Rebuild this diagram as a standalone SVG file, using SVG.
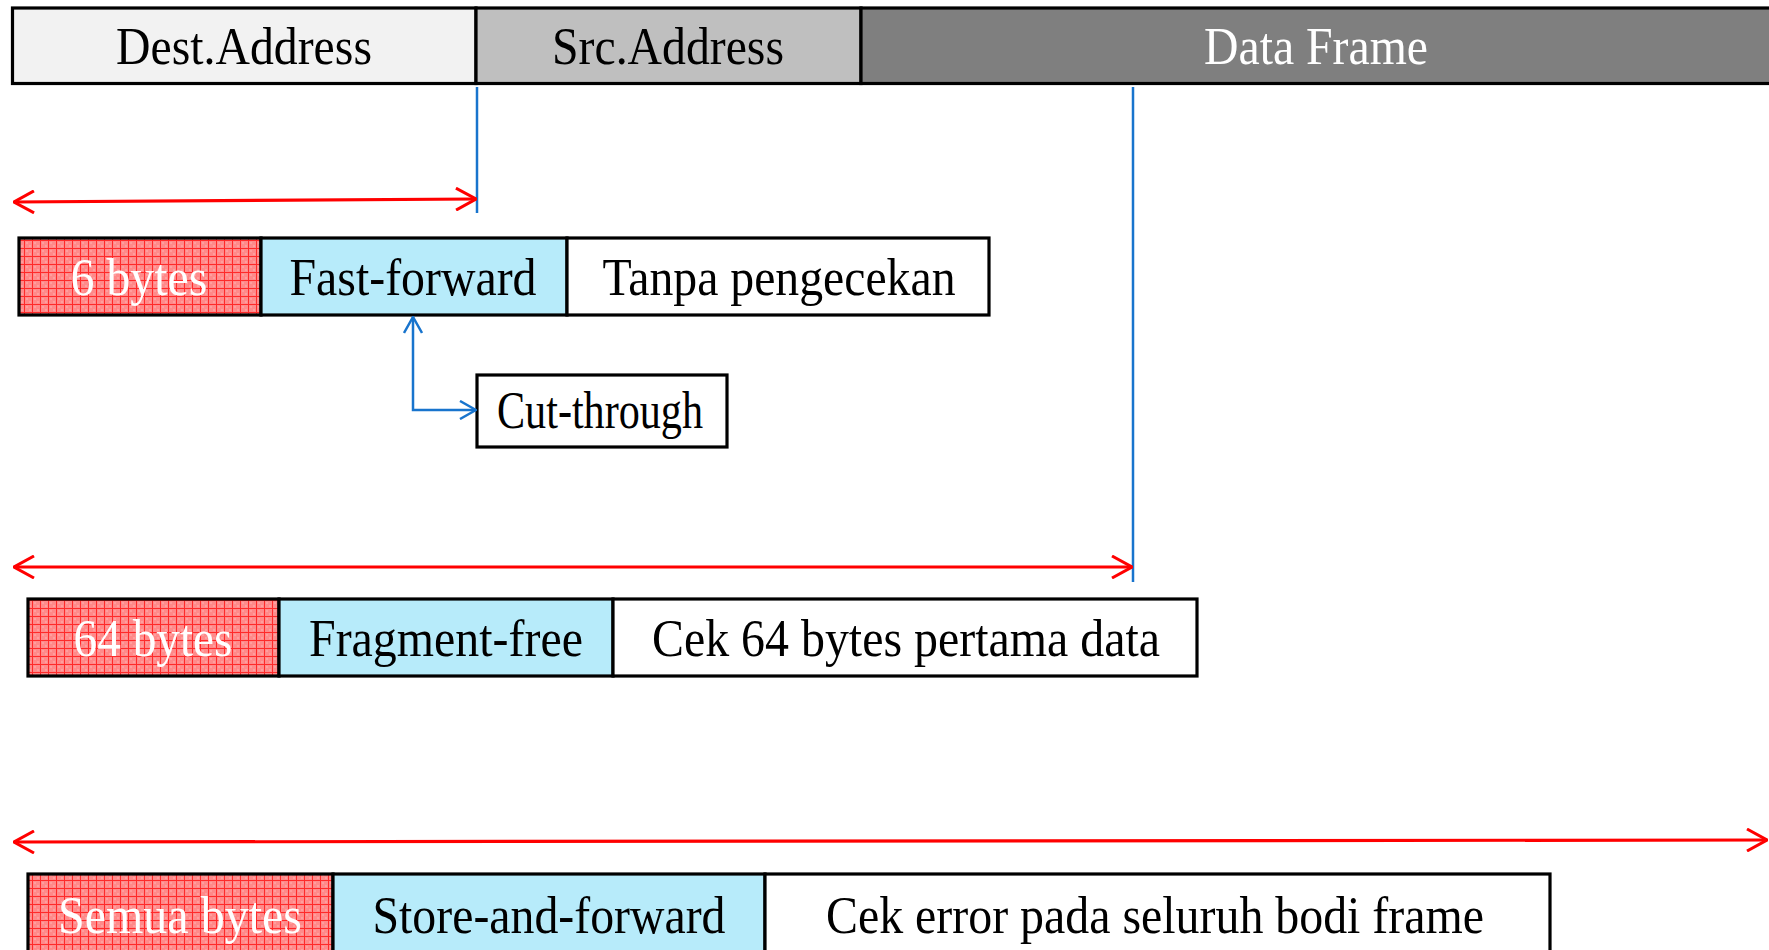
<svg xmlns="http://www.w3.org/2000/svg" width="1769" height="950" viewBox="0 0 1769 950">
  <defs>
    <!-- red hatched grid fill for the byte-count cells -->
    <pattern id="redGrid" width="8" height="8" patternUnits="userSpaceOnUse">
      <rect width="8" height="8" fill="#ff8a8a"/>
      <rect x="2" y="2" width="2" height="2" fill="#ff9e9e"/>
      <rect x="5" y="5" width="2" height="2" fill="#ff9e9e"/>
      <path d="M0 0.5H8M0.5 0V8" stroke="#ff2a2a" stroke-width="1"/>
    </pattern>
    <marker id="redHead" viewBox="0 0 22 24" refX="21" refY="12" markerWidth="22" markerHeight="24" markerUnits="userSpaceOnUse" orient="auto-start-reverse">
      <path d="M1 1L21 12L1 23" fill="none" stroke="#ff0000" stroke-width="3"/>
    </marker>
    <marker id="blueHead" viewBox="0 0 18 20" refX="17" refY="10" markerWidth="18" markerHeight="20" markerUnits="userSpaceOnUse" orient="auto-start-reverse">
      <path d="M1 1L17 10L1 19" fill="none" stroke="#1874cd" stroke-width="2.5"/>
    </marker>
    <style>
      .cell { stroke: #000; stroke-width: 3.2; }
      .lbl { font-family: "Liberation Serif", "Times New Roman", serif; font-size: 52px; text-anchor: middle; fill: #000; }
      .white { fill: #fff; }
      .red { fill: none; stroke: #ff0000; stroke-width: 3.2; }
      .blue { fill: none; stroke: #1874cd; stroke-width: 2.5; }
    </style>
  </defs>

  <rect width="1769" height="950" fill="#fff"/>

  <!-- frame header -->
  <g id="frame">
    <rect class="cell" x="12.5" y="8" width="463.5" height="75.5" fill="#f2f2f2"/>
    <rect class="cell" x="476" y="8" width="385" height="75.5" fill="#bfbfbf"/>
    <rect class="cell" x="861" y="8" width="930" height="75.5" fill="#7f7f7f"/>
    <text class="lbl" x="244" y="64" textLength="256" lengthAdjust="spacingAndGlyphs">Dest.Address</text>
    <text class="lbl" x="668" y="64" textLength="232" lengthAdjust="spacingAndGlyphs">Src.Address</text>
    <text class="lbl white" x="1316" y="64" textLength="224" lengthAdjust="spacingAndGlyphs">Data Frame</text>
  </g>

  <!-- fast-forward row -->
  <g id="row-fast-forward">
    <rect class="cell" x="19" y="238" width="242" height="77" fill="url(#redGrid)"/>
    <rect class="cell" x="261" y="238" width="306" height="77" fill="#b7ebfa"/>
    <rect class="cell" x="567" y="238" width="422" height="77" fill="#fff"/>
    <text class="lbl white" x="139" y="295" textLength="137" lengthAdjust="spacingAndGlyphs">6 bytes</text>
    <text class="lbl" x="413" y="295" textLength="247" lengthAdjust="spacingAndGlyphs">Fast-forward</text>
    <text class="lbl" x="779" y="295" textLength="353" lengthAdjust="spacingAndGlyphs">Tanpa pengecekan</text>
  </g>

  <g id="cut-through">
    <rect class="cell" x="477" y="375" width="250" height="72" fill="#fff"/>
    <text class="lbl" x="600" y="428" textLength="206" lengthAdjust="spacingAndGlyphs">Cut-through</text>
  </g>

  <!-- fragment-free row -->
  <g id="row-fragment-free">
    <rect class="cell" x="28" y="599" width="251" height="77" fill="url(#redGrid)"/>
    <rect class="cell" x="279" y="599" width="334" height="77" fill="#b7ebfa"/>
    <rect class="cell" x="613" y="599" width="584" height="77" fill="#fff"/>
    <text class="lbl white" x="153" y="656" textLength="159" lengthAdjust="spacingAndGlyphs">64 bytes</text>
    <text class="lbl" x="446" y="656" textLength="274" lengthAdjust="spacingAndGlyphs">Fragment-free</text>
    <text class="lbl" x="906" y="656" textLength="508" lengthAdjust="spacingAndGlyphs">Cek 64 bytes pertama data</text>
  </g>

  <!-- store-and-forward row -->
  <g id="row-store-and-forward">
    <rect class="cell" x="28" y="874" width="305" height="100" fill="url(#redGrid)"/>
    <rect class="cell" x="333" y="874" width="432" height="100" fill="#b7ebfa"/>
    <rect class="cell" x="765" y="874" width="785" height="100" fill="#fff"/>
    <text class="lbl white" x="180" y="933" textLength="244" lengthAdjust="spacingAndGlyphs">Semua bytes</text>
    <text class="lbl" x="549" y="933" textLength="353" lengthAdjust="spacingAndGlyphs">Store-and-forward</text>
    <text class="lbl" x="1155" y="933" textLength="658" lengthAdjust="spacingAndGlyphs">Cek error pada seluruh bodi frame</text>
  </g>

  <!-- connectors: boundary lines, span arrows, cut-through link -->
  <g id="connectors">
    <line class="blue" x1="477" y1="87" x2="477" y2="213"/>
    <line class="blue" x1="1133" y1="87" x2="1133" y2="582"/>
    <line class="red" x1="14" y1="202" x2="476" y2="199" marker-start="url(#redHead)" marker-end="url(#redHead)"/>
    <line class="red" x1="14" y1="567" x2="1132" y2="567" marker-start="url(#redHead)" marker-end="url(#redHead)"/>
    <line class="red" x1="14" y1="842" x2="1767" y2="840" marker-start="url(#redHead)" marker-end="url(#redHead)"/>
    <polyline class="blue" points="413,317 413,410 476,410" marker-start="url(#blueHead)" marker-end="url(#blueHead)"/>
  </g>
</svg>
